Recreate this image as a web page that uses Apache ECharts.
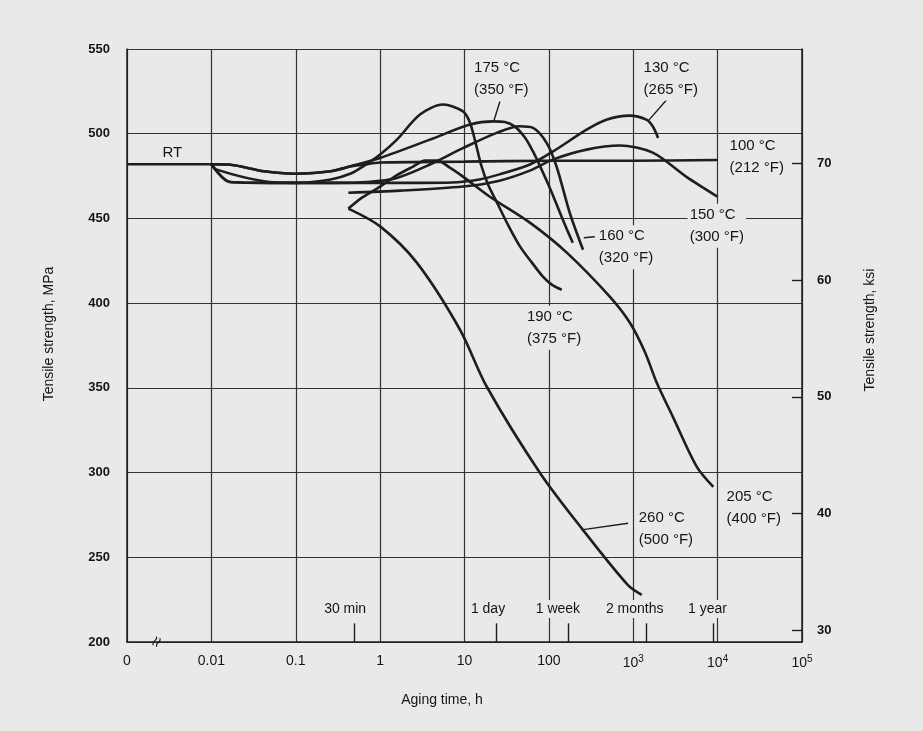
<!DOCTYPE html>
<html>
<head>
<meta charset="utf-8">
<title>Tensile strength vs aging time</title>
<script src="https://cdn.jsdelivr.net/npm/echarts@6.0.0/dist/echarts.min.js"></script>
<style>
html,body{margin:0;padding:0;background:#e9e9e9;}
#chart{width:923px;height:731px;}
</style>
</head>
<body>
<div id="chart"></div>
<script>
// ---------------- data (aging time in h, tensile strength in MPa) ----------------
const rtHours = [0.001, 0.01];
const rtMPa   = [482, 482];

const c100Hours = [0.01, 0.016, 0.042, 0.1, 0.26, 0.44, 0.63, 1, 10, 100, 1000, 10000];
const c100MPa   = [482, 481.8, 477.8, 476.4, 477.8, 480.7, 481.7, 483, 483.5, 484, 484, 484.5];

const c130Hours = [0.01, 0.0166, 0.05, 0.3, 1, 3, 7, 15, 26, 59.5, 111, 280, 480, 910, 1430, 1700, 1970];
const c130MPa   = [482, 471.5, 471, 471, 471, 471, 471.2, 473, 476, 481.8, 489.4, 502.4, 508.3, 510.7, 508.3, 504.4, 497.5];

const c150Hours = [0.42, 1.72, 9.6, 26, 59.5, 111, 280, 690, 1700, 4230, 10000];
const c150MPa   = [465.2, 466.4, 468.8, 472.3, 478.2, 484.7, 490.6, 493, 488.8, 474.7, 462.8];

const c160Hours = [0.01, 0.0166, 0.05, 0.3, 0.7, 1.58, 3.9, 9.7, 24, 45, 65, 94, 123, 177, 254];
const c160MPa   = [482, 471.5, 471, 471, 471.5, 473.9, 481.8, 491.6, 500.5, 504.4, 503.4, 494.6, 480.8, 453.2, 431.5];

const c175Hours = [0.01, 0.016, 0.042, 0.1, 0.26, 0.5, 1, 3.9, 11.6, 22, 30, 39.6, 52, 65, 80, 100, 124, 155, 192];
const c175MPa   = [482, 481.8, 477.8, 476.4, 477.8, 481.5, 485.7, 496.5, 505.4, 507.3, 506.9, 504.2, 497.7, 489.4, 480, 469.3, 458.1, 446.3, 435.7];

const c190Hours = [0.01, 0.0116, 0.042, 0.1, 0.26, 0.45, 0.63, 1, 1.58, 2.97, 5.57, 9.6, 11.6, 13.7, 15.7, 19, 24.3, 32.7, 45.4, 63, 85, 108, 142];
const c190MPa   = [482, 478.8, 471.9, 471, 473, 476.5, 480.7, 487.7, 496.5, 511.3, 517.2, 513.2, 506.6, 493.6, 481.8, 470, 459.3, 446.3, 433.5, 423.9, 415.6, 410.9, 407.9];

const c205Hours = [0.42, 0.61, 1, 1.55, 2.46, 3.41, 4.73, 6.7, 9.6, 20, 59.5, 163, 527, 912, 1370, 1900, 2950, 5670, 8900];
const c205MPa   = [455.8, 462.3, 468.8, 475.3, 480.6, 484.1, 484.1, 480, 474.7, 462.8, 447.5, 429.8, 403.8, 388.4, 371.3, 353, 332.9, 303.4, 291.6];

const c260Hours = [0.42, 1, 2.72, 8.85, 18.3, 78.5, 253, 860, 1260];
const c260MPa   = [455.8, 445.3, 423.9, 384.3, 350.8, 299.8, 266.2, 233.7, 227.8];

// label leader lines
const leader175Hours = [26.3, 22.3];  const leader175MPa = [519, 507.7];
const leader130Hours = [2490, 1486];  const leader130MPa = [520, 507.3];
const leader160Hours = [259, 350];    const leader160MPa = [438.6, 439.2];
const leader260Hours = [244, 869];    const leader260MPa = [266.2, 270.1];

// curve labels
const curveLabelTexts = ['RT', '175 °C\n(350 °F)', '130 °C\n(265 °F)', '100 °C\n(212 °F)', '150 °C\n(300 °F)',
                         '160 °C\n(320 °F)', '190 °C\n(375 °F)', '260 °C\n(500 °F)', '205 °C\n(400 °F)'];
const curveLabelHours = [0.00345, 12.3, 1255, 13130, 4415, 370, 52, 1100, 12100];
const curveLabelMPa   = [488.8, 532.5, 532.5, 486.2, 445.7, 433, 385.5, 266.7, 279];

// time markers on the time axis
const timeMarkTexts = ['30 min', '1 day', '1 week', '2 months', '1 year'];
const timeMarkHours = [0.5, 24, 168, 1440, 8760];
const timeMarkLabelHours = [0.385, 19, 128, 1040, 7600];
const timeMarkLabelMPa = 219.5;

// tick labels
const xTickLabels = ['0', '0.01', '0.1', '1', '10', '100', '10{sup|3}', '10{sup|4}', '10{sup|5}'];
const ksiTicks = [30, 40, 50, 60, 70];
const MPA_PER_KSI = 6.894757;

// ---------------- chart ----------------
const BG = '#e9e9e9';
const INK = '#1e1e1e';
const TXT = '#151515';
const GRIDC = '#333333';
const FONT = '"Liberation Sans", Arial, sans-serif';

function pts(h, m) { return h.map((v, i) => [v, m[i]]); }

const curves = [
  { name: 'RT', h: rtHours, m: rtMPa },
  { name: '100 °C', h: c100Hours, m: c100MPa },
  { name: '130 °C', h: c130Hours, m: c130MPa },
  { name: '150 °C', h: c150Hours, m: c150MPa },
  { name: '160 °C', h: c160Hours, m: c160MPa },
  { name: '175 °C', h: c175Hours, m: c175MPa },
  { name: '190 °C', h: c190Hours, m: c190MPa },
  { name: '205 °C', h: c205Hours, m: c205MPa },
  { name: '260 °C', h: c260Hours, m: c260MPa }
];
const leaders = [
  [leader175Hours, leader175MPa], [leader130Hours, leader130MPa],
  [leader160Hours, leader160MPa], [leader260Hours, leader260MPa]
];

const series = [];
curves.forEach(c => {
  series.push({
    type: 'line', name: c.name, data: pts(c.h, c.m),
    symbol: 'none', showSymbol: false, smooth: 0.3,
    lineStyle: { color: INK, width: 2.6 }, z: 3, silent: true
  });
});
leaders.forEach(l => {
  series.push({
    type: 'line', data: pts(l[0], l[1]), symbol: 'none', showSymbol: false,
    lineStyle: { color: INK, width: 1.4 }, z: 3, silent: true
  });
});

const HIDDEN = { color: 'rgba(0,0,0,0)', borderWidth: 0 };

// curve labels
series.push({
  type: 'scatter', symbolSize: 1, itemStyle: HIDDEN, silent: true, z: 6,
  data: curveLabelTexts.map((t, i) => ({
    value: [curveLabelHours[i], curveLabelMPa[i]],
    label: { formatter: t, align: i === 0 ? 'center' : 'left',
             backgroundColor: i === 0 ? 'transparent' : BG }
  })),
  label: {
    show: true, position: 'inside', verticalAlign: 'middle', opacity: 1,
    textBorderWidth: 0, color: TXT, fontSize: 15, lineHeight: 22, fontFamily: FONT, padding: [0, 2]
  }
});

// time markers (labels + short ticks)
series.push({
  type: 'scatter', symbolSize: 1, itemStyle: HIDDEN, silent: true, z: 6,
  data: timeMarkTexts.map((t, i) => ({
    value: [timeMarkLabelHours[i], timeMarkLabelMPa], label: { formatter: t }
  })),
  label: {
    show: true, position: 'inside', align: 'center', verticalAlign: 'middle', opacity: 1,
    textBorderWidth: 0, color: TXT, fontSize: 14, fontFamily: FONT, backgroundColor: BG, padding: [2, 2]
  },
  markLine: {
    silent: true, symbol: ['none', 'none'], label: { show: false },
    lineStyle: { color: INK, width: 1.4, type: 'solid' },
    data: timeMarkHours.map(h => [{ coord: [h, 200] }, { coord: [h, 211] }])
  }
});

// axis-break symbol
series.push({
  type: 'scatter', symbolSize: 1, itemStyle: HIDDEN, silent: true, z: 6,
  data: [[0.0023, 200]],
  label: { show: true, position: 'inside', formatter: '≈', rotate: 65, opacity: 1,
           textBorderWidth: 0, color: INK, fontSize: 19, fontFamily: FONT }
});

const option = {
  backgroundColor: BG,
  animation: false,
  grid: { left: 127, right: 121, top: 49, bottom: 89 },
  xAxis: {
    type: 'log', logBase: 10, min: 0.001, max: 100000,
    axisLine: { show: true, lineStyle: { color: INK, width: 1.5 } },
    axisTick: { show: false },
    minorTick: { show: false },
    splitLine: { show: true, lineStyle: { color: GRIDC, width: 1.2 } },
    axisLabel: {
      margin: 12, color: TXT, fontSize: 14, fontFamily: FONT,
      formatter: v => {
        const idx = Math.round(Math.log10(v)) + 3;
        return xTickLabels[idx] !== undefined ? xTickLabels[idx] : '';
      },
      rich: { sup: { fontSize: 10, fontFamily: FONT, color: TXT, padding: [0, 0, 8, 0] } }
    }
  },
  yAxis: [
    {
      type: 'value', min: 200, max: 550, interval: 50,
      axisLine: { show: true, lineStyle: { color: INK, width: 1.5 } },
      axisTick: { show: false },
      splitLine: { show: true, lineStyle: { color: GRIDC, width: 1.2 } },
      axisLabel: { margin: 17, color: TXT, fontSize: 13, fontWeight: 'bold', fontFamily: FONT }
    },
    {
      type: 'value', position: 'right',
      min: 200 / MPA_PER_KSI, max: 550 / MPA_PER_KSI,
      axisLine: { show: true, lineStyle: { color: INK, width: 1.5 } },
      axisTick: { show: true, inside: true, length: 10, customValues: ksiTicks,
                  lineStyle: { color: INK, width: 1.4 } },
      splitLine: { show: false },
      axisLabel: { customValues: ksiTicks, margin: 15, color: TXT, fontSize: 13,
                   fontWeight: 'bold', fontFamily: FONT }
    }
  ],
  graphic: [
    { type: 'text', x: 49, y: 334, rotation: Math.PI / 2,
      style: { text: 'Tensile strength, MPa', fill: TXT, font: '14px ' + FONT,
               textAlign: 'center', textVerticalAlign: 'middle', align: 'center', verticalAlign: 'middle' } },
    { type: 'text', x: 870, y: 330, rotation: Math.PI / 2,
      style: { text: 'Tensile strength, ksi', fill: TXT, font: '14px ' + FONT,
               textAlign: 'center', textVerticalAlign: 'middle', align: 'center', verticalAlign: 'middle' } },
    { type: 'text', x: 442, y: 700,
      style: { text: 'Aging time, h', fill: TXT, font: '14px ' + FONT,
               textAlign: 'center', textVerticalAlign: 'middle', align: 'center', verticalAlign: 'middle' } }
  ],
  series: series
};

const chart = echarts.init(document.getElementById('chart'));
chart.setOption(option);
</script>
</body>
</html>
